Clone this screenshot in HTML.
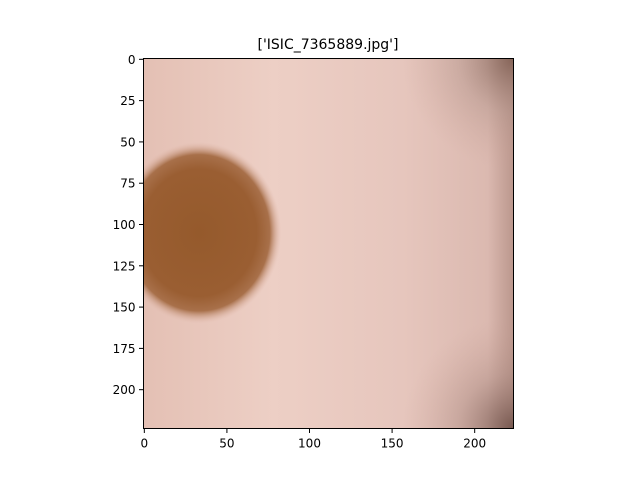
<!DOCTYPE html>
<html><head><meta charset="utf-8"><style>
body{margin:0;background:#fff;}
svg{display:block;font-family:"DejaVu Sans","Liberation Sans",sans-serif;}
</style></head><body>
<svg id="chart" width="640" height="480" viewBox="0 0 640 480">
<defs>
<clipPath id="ax"><rect x="143.5" y="58.5" width="370" height="370"/></clipPath>
<linearGradient id="base" x1="0" y1="0" x2="1" y2="0">
<stop offset="0" stop-color="#e4c0b4"/><stop offset="0.35" stop-color="#edcfc5"/>
<stop offset="0.7" stop-color="#e6c6bd"/><stop offset="0.93" stop-color="#dbb9b0"/><stop offset="1" stop-color="#bb978d"/></linearGradient>
<radialGradient id="tr" cx="1" cy="0" r="0.3"><stop offset="0" stop-color="#7f5e52" stop-opacity="0.9"/><stop offset="0.5" stop-color="#a88a80" stop-opacity="0.35"/><stop offset="1" stop-color="#c9a196" stop-opacity="0"/></radialGradient>
<radialGradient id="br" cx="1" cy="1" r="0.3"><stop offset="0" stop-color="#6e5048" stop-opacity="0.9"/><stop offset="0.5" stop-color="#a07f76" stop-opacity="0.35"/><stop offset="1" stop-color="#c9a196" stop-opacity="0"/></radialGradient>
<radialGradient id="les"><stop offset="0" stop-color="#955a2c"/><stop offset="0.7" stop-color="#9a5e32"/><stop offset="0.86" stop-color="#a8704a"/><stop offset="1" stop-color="#e0b8aa" stop-opacity="0"/></radialGradient>
</defs>
<text x="328" y="49" text-anchor="middle" font-size="14">['ISIC_7365889.jpg']</text>
<g clip-path="url(#ax)">
<rect x="143.5" y="58.5" width="370" height="370" fill="url(#base)"/>
<rect x="143.5" y="58.5" width="370" height="370" fill="url(#tr)"/>
<rect x="143.5" y="58.5" width="370" height="370" fill="url(#br)"/>
<ellipse id="lesion" fill="url(#les)"/>
</g>
<rect x="143.5" y="58.5" width="370" height="370" fill="none" stroke="#000" stroke-width="1"/>
<g id="ticks"></g>
</svg>
<script>
const xTicks=[0,50,100,150,200];
const yTicks=[0,25,50,75,100,125,150,175,200];
const imgSize=[224,224];
const lesionCenter=[33,105];
const lesionRadius=[50,55];
const L=143.5,T=58.5,W=370,H=370;
const sx=d=>L+(d+0.5)*W/imgSize[0];
const sy=d=>T+(d+0.5)*H/imgSize[1];
const ns="http://www.w3.org/2000/svg";
const g=document.getElementById('ticks');
const les=document.getElementById('lesion');
les.setAttribute('cx',sx(lesionCenter[0]));les.setAttribute('cy',sy(lesionCenter[1]));
les.setAttribute('rx',lesionRadius[0]*W/imgSize[0]);les.setAttribute('ry',lesionRadius[1]*H/imgSize[1]);
function mk(t,a){const e=document.createElementNS(ns,t);for(const k in a)e.setAttribute(k,a[k]);g.appendChild(e);return e;}
xTicks.forEach(v=>{const x=sx(v);
const l=mk('line',{x1:x,x2:x,y1:T+H,y2:T+H+4.5,stroke:'#000'});


const t=mk('text',{x:x,y:T+H+19,'text-anchor':'middle','font-size':'12'});t.textContent=v;

});
yTicks.forEach(v=>{const y=sy(v);
const l=mk('line',{x1:L-4.5,x2:L,y1:y,y2:y,stroke:'#000'});


const t=mk('text',{x:L-8,y:y+4.5,'text-anchor':'end','font-size':'12'});t.textContent=v;

});
</script>
</body></html>
